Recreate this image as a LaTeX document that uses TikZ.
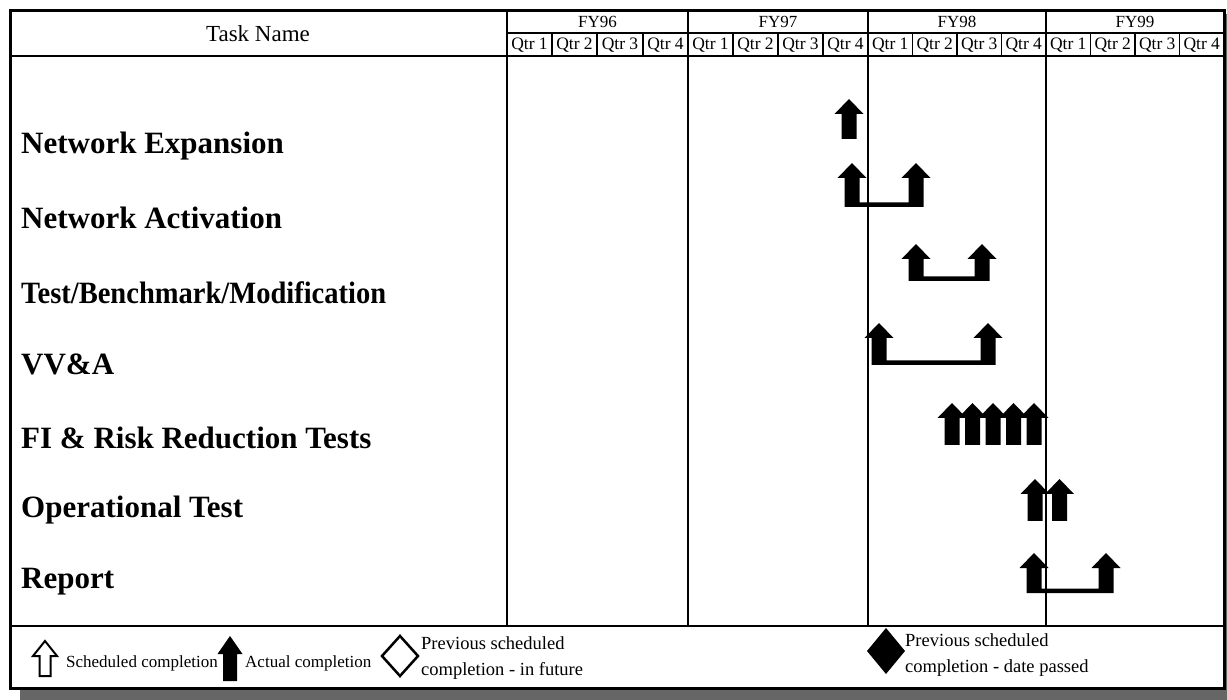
\documentclass[tikz,border=0pt]{standalone}
\usepackage{fontspec}
\setmainfont{Liberation Serif}
\begin{document}
\begin{tikzpicture}[x=1pt,y=-1pt,
  frameline/.style={line width=3pt},
  gridline/.style={line width=1.6pt},
  thingrid/.style={line width=1.2pt},
  hdr/.style={inner sep=0pt,font=\fontsize{23}{27}\selectfont},
  yearlbl/.style={inner sep=0pt,font=\fontsize{17}{20}\selectfont},
  qtrlbl/.style={inner sep=0pt,font=\fontsize{17.5}{20}\selectfont},
  tasklbl/.style={anchor=west,inner sep=0pt,font=\fontsize{31}{36}\selectfont\bfseries},
  legendtxt/.style={anchor=west,inner sep=0pt,align=left,font=\fontsize{17}{26}\selectfont},
  legendtwo/.style={anchor=west,inner sep=0pt,align=left,font=\fontsize{18.5}{26}\selectfont},
]
\useasboundingbox (0,0) rectangle (1227,700);

% drop shadow of the sheet
\fill[black!60] (20,688) rectangle (1227,700);
\fill[black!60] (1224,14) rectangle (1227,700);
\fill[white] (10,11) rectangle (1224,688);

% solid completion arrow: x, tip y, bottom y
\newcommand\solidarrow[3]{%
  \fill ({#1-7.5},{#3}) -- ({#1-7.5},{#2+15}) -- ({#1-14.5},{#2+15}) -- ({#1},{#2})
     -- ({#1+14.5},{#2+15}) -- ({#1+7.5},{#2+15}) -- ({#1+7.5},{#3}) -- cycle;}
% two solid arrows joined by a bar at their foot: left x, right x, tip y, bottom y
\newcommand\solidpair[4]{%
  \fill ({#1-7.5},{#4}) -- ({#1-7.5},{#3+15}) -- ({#1-14.5},{#3+15}) -- ({#1},{#3})
     -- ({#1+14.5},{#3+15}) -- ({#1+7.5},{#3+15}) -- ({#1+7.5},{#4-4.5})
     -- ({#2-7.5},{#4-4.5}) -- ({#2-7.5},{#3+15}) -- ({#2-14.5},{#3+15}) -- ({#2},{#3})
     -- ({#2+14.5},{#3+15}) -- ({#2+7.5},{#3+15}) -- ({#2+7.5},{#4}) -- cycle;}

% header grid
\draw[gridline] (507,33) -- (1224,33);
\draw[gridline] (10,56) -- (1224,56);
\draw[gridline] (507,11) -- (507,626);
\foreach \xx in {688,868,1046} {\draw[gridline] (\xx,11) -- (\xx,626);}
\foreach \xx in {552,597,643,733,778,823,912.5,957,1001.5,1090.5,1135,1179.5}
  {\draw[thingrid] (\xx,33) -- (\xx,56);}
\draw[gridline] (10,626) -- (1224,626);

% header labels
\node[hdr] (taskname) at (258,34) {Task Name};
\node[yearlbl] (fy96) at (597.5,22) {FY96};
\node[yearlbl] (fy97) at (778,22) {FY97};
\node[yearlbl] (fy98) at (957,22) {FY98};
\node[yearlbl] (fy99) at (1135,22) {FY99};
\foreach \yr/\a/\b/\c/\d/\e in {96/507/552/597/643/688, 97/688/733/778/823/868,
    98/868/912.5/957/1001.5/1046, 99/1046/1090.5/1135/1179.5/1224} {
  \node[qtrlbl] (q\yr a) at ({(\a+\b)/2},45.5) {Qtr 1};
  \node[qtrlbl] (q\yr b) at ({(\b+\c)/2},45.5) {Qtr 2};
  \node[qtrlbl] (q\yr c) at ({(\c+\d)/2},45.5) {Qtr 3};
  \node[qtrlbl] (q\yr d) at ({(\d+\e)/2},45.5) {Qtr 4};
}

% task names
\node[tasklbl] (t1) at (21,146) {Network Expansion};
\node[tasklbl] (t2) at (21,218) {Network Activation};
\node[tasklbl] (t3) at (21,293) {\scalebox{0.92}[1]{Test/Benchmark/Modification}};
\node[tasklbl] (t4) at (21,364) {VV\&A};
\node[tasklbl] (t5) at (21,438) {FI \& Risk Reduction Tests};
\node[tasklbl] (t6) at (21,510) {Operational Test};
\node[tasklbl] (t7) at (21,582) {Report};

% completion marks
\solidarrow{849}{99}{139}
\solidpair{852}{916}{163}{207}
\solidpair{916}{982}{244}{281}
\solidpair{879}{988}{323}{365}
\foreach \xx in {952,972.5,993,1013.5,1034} {\solidarrow{\xx}{403}{445}}
\solidarrow{1035}{479}{521}
\solidarrow{1059.5}{479}{521}
\solidpair{1034}{1106}{553}{593}

% legend
\draw[line width=2pt,line join=miter] (39.5,676) -- (39.5,656) -- (33,656) -- (45,641)
   -- (57,656) -- (50.5,656) -- (50.5,676) -- cycle;
\node[legendtxt] (lsched) at (66,663) {Scheduled completion};
\fill (223,681) -- (223,654) -- (217.5,654) -- (230,636) -- (242.5,654) -- (237,654)
   -- (237,681) -- cycle;
\node[legendtxt] (lact) at (245,663) {Actual completion};
\draw[line width=2.5pt,line join=miter] (400,636) -- (418,656) -- (400,676) -- (382,656) -- cycle;
\node[legendtwo] (lfut) at (421,658) {Previous scheduled\\completion - in future};
\fill (886,628) -- (905,651) -- (886,674) -- (867,651) -- cycle;
\node[legendtwo] (lpass) at (905,655) {Previous scheduled\\completion - date passed};

% sheet border
\draw[frameline] (10,11) rectangle (1224,688);
\end{tikzpicture}
\end{document}
